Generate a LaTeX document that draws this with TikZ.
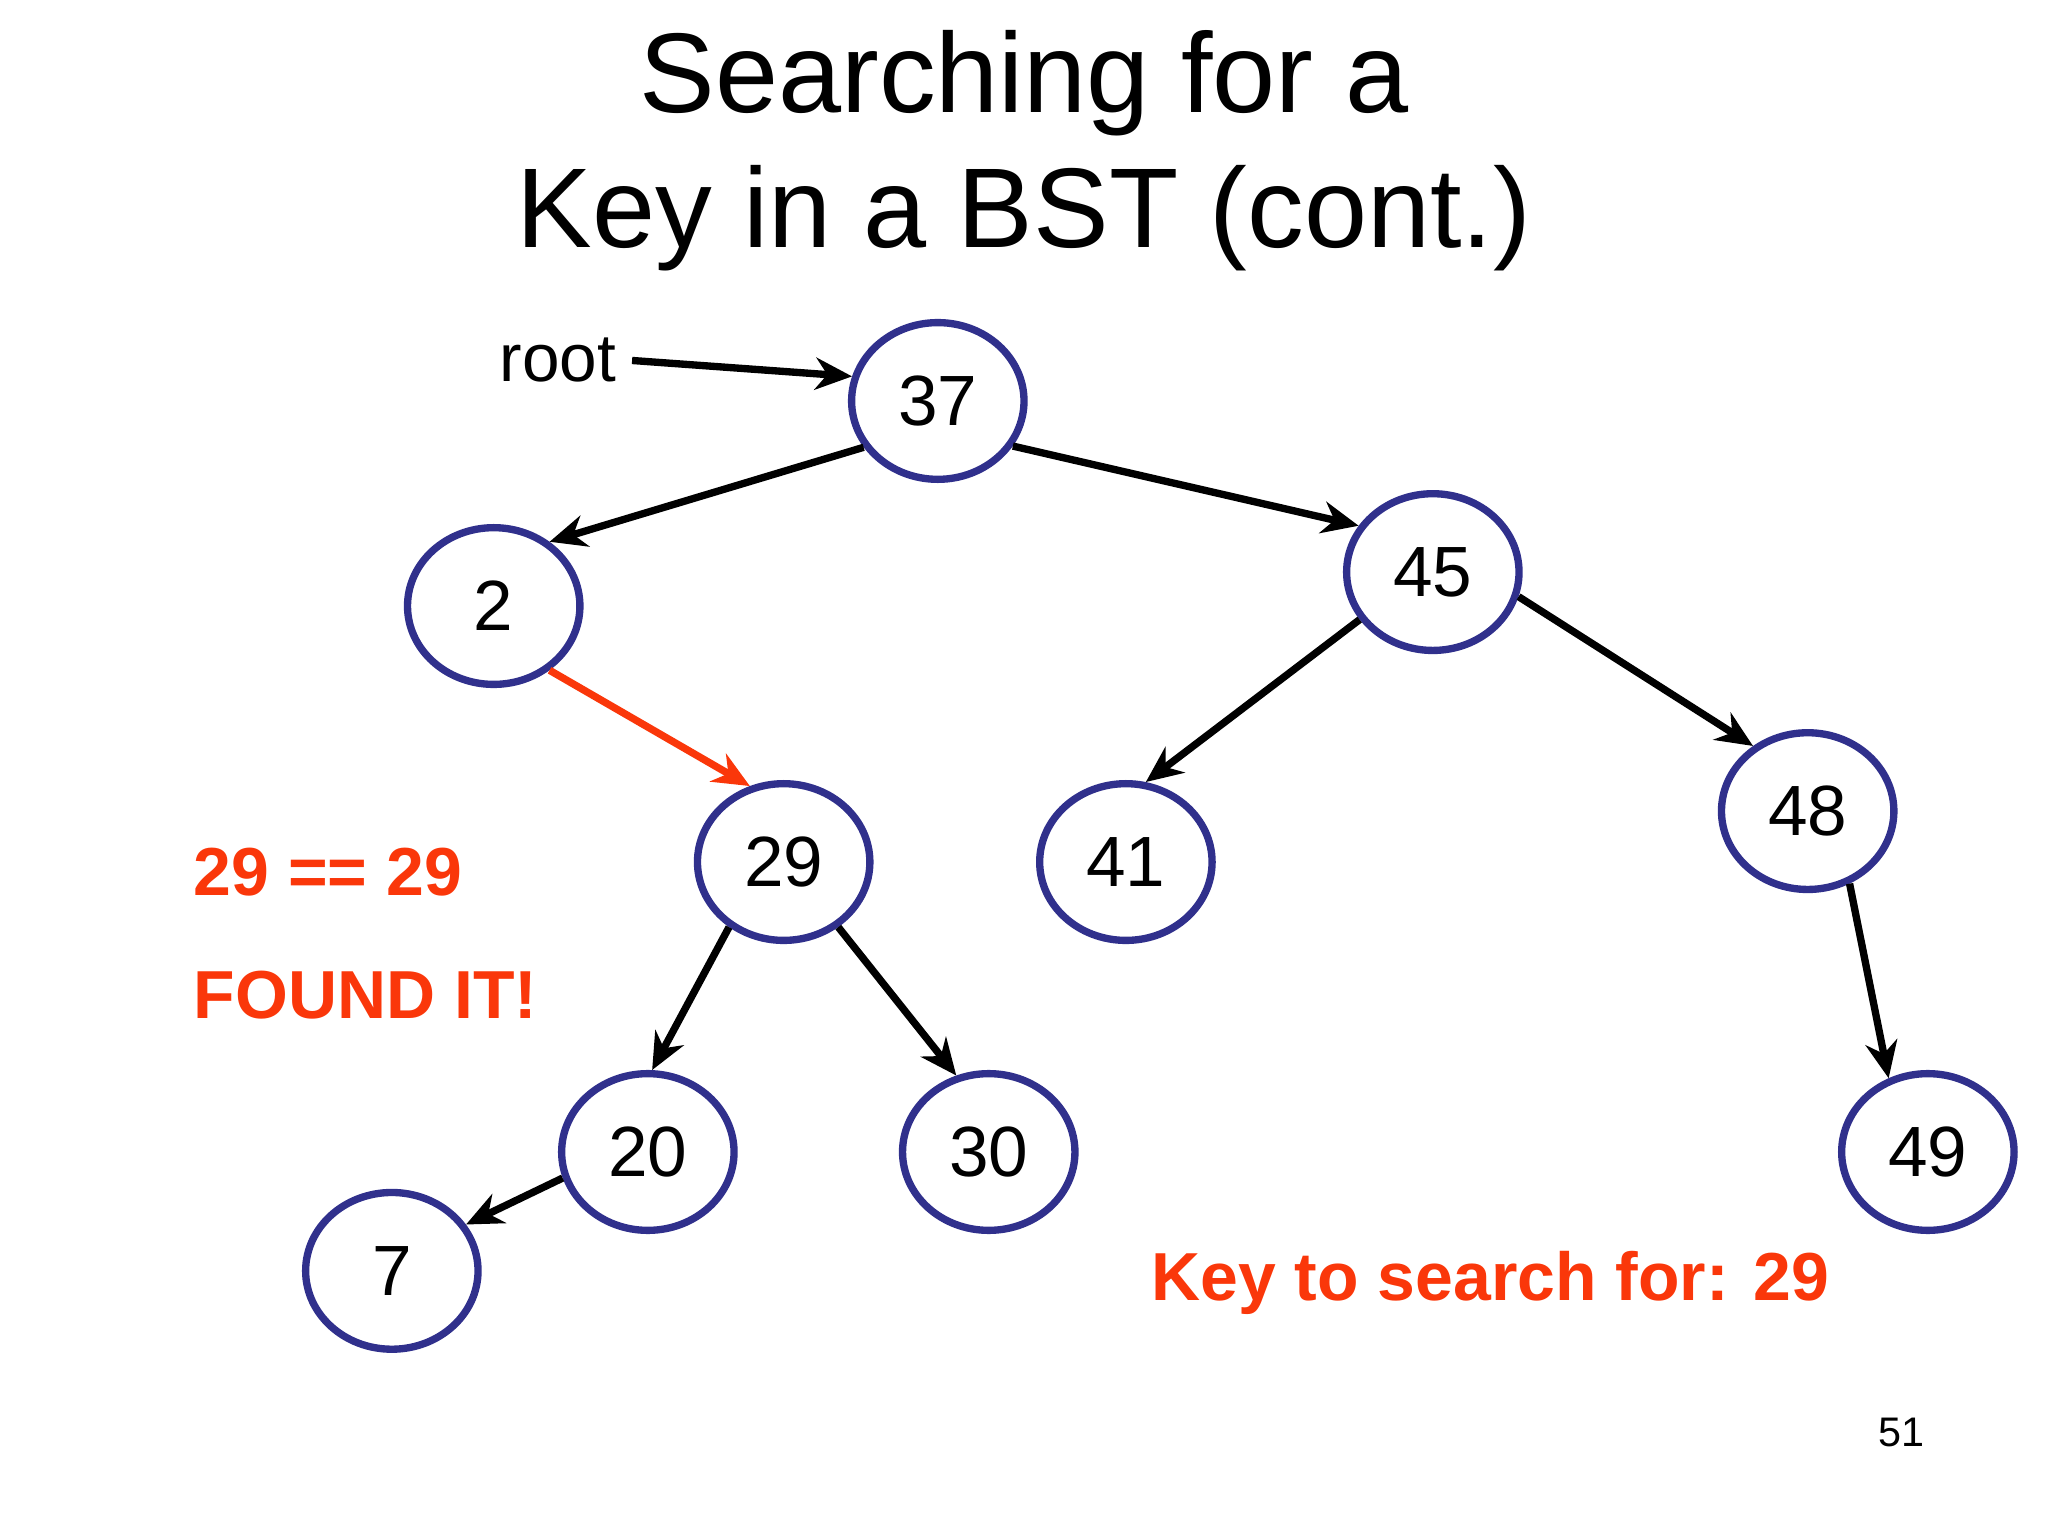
\documentclass[tikz,border=0pt]{standalone}
\usepackage{fontspec}
\setmainfont{Liberation Sans}
\usetikzlibrary{shapes.geometric,arrows.meta}
\definecolor{nodeblue}{RGB}{48,48,140}
\definecolor{hired}{RGB}{250,55,10}
\tikzset{
 bst/.style={ellipse,draw=nodeblue,line width=1.6pt,minimum width=1.32cm,minimum height=1.2cm,inner sep=0pt,font=\fontsize{15.5}{18}\selectfont},
 edge/.style={line width=1.6pt,-{Stealth[length=8pt,width=7pt]}},
 redtxt/.style={text=hired,font=\bfseries\fontsize{14.8}{18}\selectfont,anchor=west}
}
\begin{document}
\begin{tikzpicture}
\useasboundingbox (0,0) rectangle (15.68,-11.76);
\node (t1) at (7.84,-0.64) {\fontsize{24.7}{30}\selectfont Searching for a};
\node (t2) at (7.84,-1.67) {\fontsize{24.7}{30}\selectfont Key in a BST (cont.)};
\node[bst] (n37) at (7.18,-3.07) {37};
\node[bst] (n2) at (3.78,-4.64) {2};
\node[bst] (n45) at (10.97,-4.38) {45};
\node[bst] (n29) at (6.00,-6.60) {29};
\node[bst] (n41) at (8.62,-6.60) {41};
\node[bst] (n48) at (13.84,-6.21) {48};
\node[bst] (n20) at (4.96,-8.82) {20};
\node[bst] (n30) at (7.57,-8.82) {30};
\node[bst] (n7) at (3.00,-9.73) {7};
\node[bst] (n49) at (14.76,-8.82) {49};
\node[font=\fontsize{14.7}{18}\selectfont] (root) at (4.27,-2.76) {root};
\draw[edge] (root.east) -- (n37.164);
\draw[edge] (n37.212) -- (n2.49);
\draw[edge] (n37.-31) -- (n45.148);
\draw[edge] (n45.213) -- (n41.76);
\draw[edge] (n45.-16) -- (n48.130);
\draw[edge,draw=hired,-{Stealth[length=8pt,width=7pt,fill=hired]}] (n2.-49) -- (n29.114);
\draw[edge] (n29.230) -- (n20.87);
\draw[edge] (n29.-50) -- (n30.113);
\draw[edge] (n48.-60) -- (n49.118);
\draw[edge] (n20.197) -- (n7.32);
\node[redtxt] (eq) at (1.36,-6.68) {29 == 29};
\node[redtxt] (found) at (1.36,-7.62) {FOUND IT!};
\node[redtxt] (key) at (8.69,-9.82) {Key to search for: 29};
\node[font=\fontsize{9}{11}\selectfont] (pg) at (14.56,-10.97) {51};
\end{tikzpicture}
\end{document}
